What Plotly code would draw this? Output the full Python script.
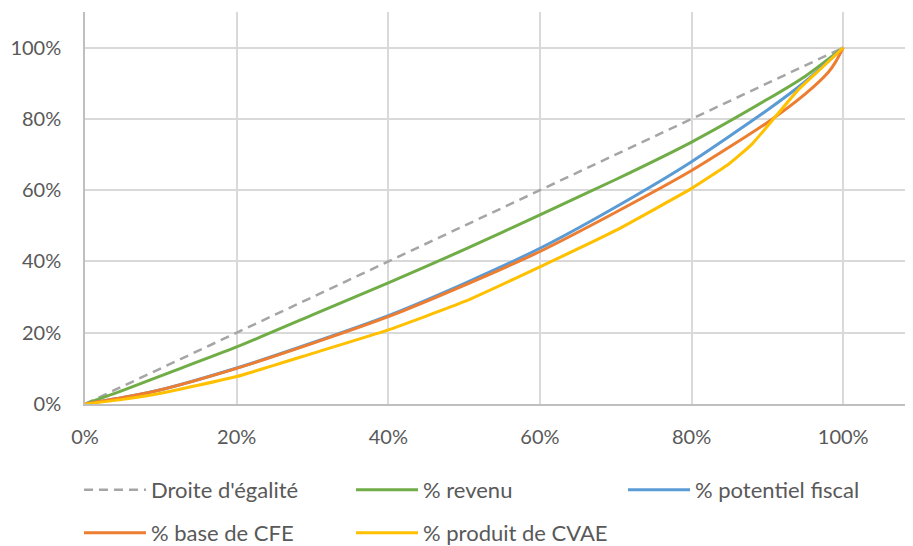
import plotly.graph_objects as go

# Cumulative share of population (x) and shares of each quantity (y)
x_egalite = [0.0, 1.0]
y_egalite = [0.0, 1.0]

x_revenu = [0.0, 0.05, 0.10, 0.20, 0.30, 0.40, 0.50, 0.60, 0.70, 0.80, 0.90, 0.95, 1.0]
y_revenu = [0.0, 0.038, 0.079, 0.16, 0.25, 0.34, 0.433, 0.531, 0.63, 0.735, 0.855, 0.92, 1.0]

x_potentiel = [0.0, 0.05, 0.10, 0.20, 0.30, 0.40, 0.50, 0.60, 0.70, 0.80, 0.90, 0.95, 1.0]
y_potentiel = [0.0, 0.018, 0.040, 0.101, 0.172, 0.248, 0.338, 0.437, 0.553, 0.68, 0.825, 0.905, 1.0]

x_cfe = [0.0, 0.05, 0.10, 0.20, 0.30, 0.40, 0.50, 0.60, 0.70, 0.80, 0.90, 0.95, 0.98, 0.99, 1.0]
y_cfe = [0.0, 0.018, 0.040, 0.100, 0.170, 0.245, 0.333, 0.428, 0.538, 0.655, 0.79, 0.87, 0.93, 0.96, 1.0]

x_cvae = [0.0, 0.05, 0.10, 0.20, 0.30, 0.40, 0.50, 0.60, 0.70, 0.80, 0.85, 0.88, 0.94, 0.97, 1.0]
y_cvae = [0.0, 0.013, 0.030, 0.077, 0.142, 0.208, 0.287, 0.385, 0.487, 0.605, 0.675, 0.73, 0.88, 0.94, 1.0]

names = ["Droite d'égalité", "% revenu", "% potentiel fiscal", "% base de CFE", "% produit de CVAE"]
colors = ["#A5A5A5", "#70AD47", "#5B9BD5", "#ED7D31", "#FFC000"]

FONT = "Lato"
TXT = "#595959"

# the page body has an 8px default margin: figure is drawn at (8, 8)
W, H = 905, 538

fig = go.Figure()
fig.add_trace(go.Scatter(x=x_egalite, y=y_egalite, mode="lines", name=names[0],
                         line=dict(color=colors[0], width=2.5, dash="9px,6px"), legend="legend"))
fig.add_trace(go.Scatter(x=x_revenu, y=y_revenu, mode="lines", name=names[1],
                         line=dict(color=colors[1], width=3, shape="spline", smoothing=0.6), legend="legend"))
fig.add_trace(go.Scatter(x=x_potentiel, y=y_potentiel, mode="lines", name=names[2],
                         line=dict(color=colors[2], width=3, shape="spline", smoothing=0.6), legend="legend"))
fig.add_trace(go.Scatter(x=x_cfe, y=y_cfe, mode="lines", name=names[3],
                         line=dict(color=colors[3], width=3, shape="spline", smoothing=0.6), legend="legend2"))
fig.add_trace(go.Scatter(x=x_cvae, y=y_cvae, mode="lines", name=names[4],
                         line=dict(color=colors[4], width=3, shape="spline", smoothing=0.4), legend="legend2"))

legend_common = dict(orientation="h", xanchor="left", yanchor="middle",
                     xref="container", yref="container",
                     entrywidth=195, entrywidthmode="pixels", itemwidth=62,
                     font=dict(family=FONT, size=22, color=TXT), bgcolor="rgba(0,0,0,0)",
                     itemclick=False, itemdoubleclick=False)

fig.update_layout(
    width=W, height=H,
    margin=dict(l=77, r=0, t=4, b=142, autoexpand=False),
    paper_bgcolor="white", plot_bgcolor="white",
    font=dict(family=FONT, size=20, color=TXT),
    showlegend=True,
    legend=dict(x=71 / W, y=1 - 482 / H, **legend_common),
    legend2=dict(x=71 / W, y=1 - 525 / H, **legend_common),
    xaxis=dict(range=[0, 1.092], tick0=0, dtick=0.2, tickformat=".0%",
               showgrid=True, gridcolor="#D9D9D9", gridwidth=1.5,
               showline=True, linecolor="#BFBFBF", linewidth=1.5,
               zeroline=False, ticks="", ticklabelstandoff=14,
               tickfont=dict(family=FONT, size=20, color=TXT)),
    yaxis=dict(range=[0, 1.1], tick0=0, dtick=0.2, tickformat=".0%",
               showgrid=True, gridcolor="#D9D9D9", gridwidth=1.5,
               showline=True, linecolor="#BFBFBF", linewidth=1.5,
               zeroline=False, ticks="", ticklabelstandoff=18,
               tickfont=dict(family=FONT, size=20, color=TXT)),
)

fig.write_html("out.html")
